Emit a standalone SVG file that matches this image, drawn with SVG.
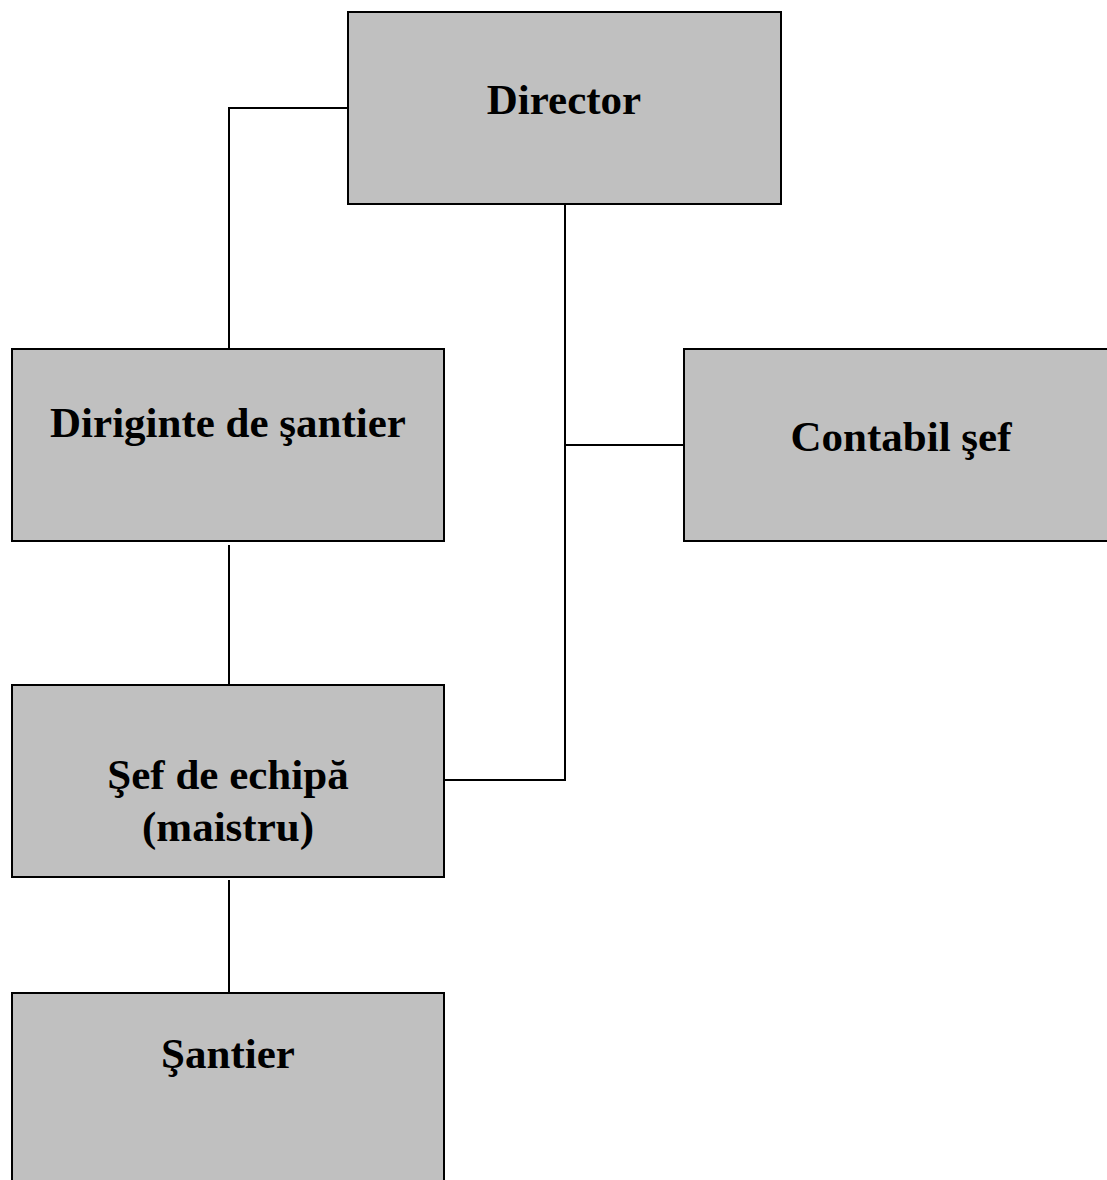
<svg xmlns="http://www.w3.org/2000/svg" width="1107" height="1180" viewBox="0 0 1107 1180">
<style>
.box{fill:#c0c0c0;stroke:#000;stroke-width:2}
.lbl{font-family:"Liberation Serif","Times New Roman",serif;font-weight:bold;font-size:43px;fill:#000;text-anchor:middle}
.conn{fill:none;stroke:#000;stroke-width:2}
</style>
<rect width="1107" height="1180" fill="#fff"/>
<g id="connectors">
<polyline class="conn" points="348,108 229,108 229,349"/>
<line class="conn" x1="565" y1="205" x2="565" y2="781"/>
<line class="conn" x1="565" y1="445" x2="684" y2="445"/>
<line class="conn" x1="444" y1="780" x2="566" y2="780"/>
<line class="conn" x1="229" y1="545" x2="229" y2="686"/>
<line class="conn" x1="229" y1="880" x2="229" y2="998"/>
</g>
<g id="director">
<rect class="box" x="348" y="12" width="433" height="192"/>
<text class="lbl" x="564" y="114">Director</text>
</g>
<g id="diriginte">
<rect class="box" x="12" y="349" width="432" height="192"/>
<text class="lbl" x="228" y="437">Diriginte de şantier</text>
</g>
<g id="contabil">
<rect class="box" x="684" y="349" width="430" height="192"/>
<text class="lbl" x="901" y="451">Contabil şef</text>
</g>
<g id="sef">
<rect class="box" x="12" y="685" width="432" height="192"/>
<text class="lbl" x="228" y="789">Şef de echipă</text>
<text class="lbl" x="228" y="841">(maistru)</text>
</g>
<g id="santier">
<rect class="box" x="12" y="993" width="432" height="200"/>
<text class="lbl" x="228" y="1068">Şantier</text>
</g>
</svg>
